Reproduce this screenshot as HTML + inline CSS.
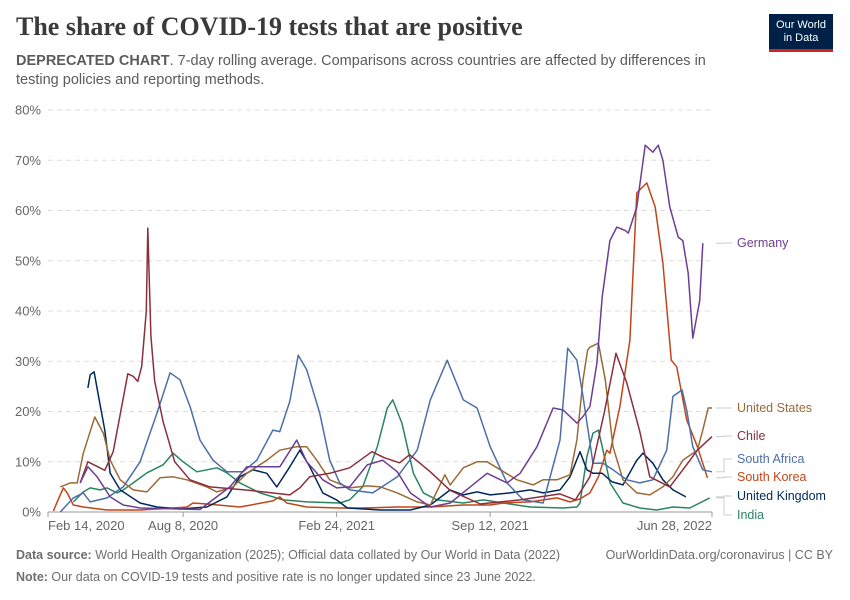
<!DOCTYPE html>
<html><head><meta charset="utf-8">
<style>
body{margin:0;background:#fff;font-family:"Liberation Sans",sans-serif;}
#wrap{position:relative;width:850px;height:600px;overflow:hidden;}
.title{position:absolute;left:16px;top:12px;font-family:"Liberation Serif",serif;font-size:26px;font-weight:bold;color:#3a3a3a;}
.sub{position:absolute;left:16px;top:52px;width:720px;font-size:14.5px;line-height:19px;color:#5b5b5b;}
.logo{position:absolute;left:769px;top:14px;width:64px;height:38px;background:#002147;border-bottom:3px solid #ce261e;color:#fff;font-size:11px;line-height:13px;text-align:center;padding-top:5px;box-sizing:border-box;}
.foot{position:absolute;left:16px;font-size:12.5px;color:#6e6e6e;}
</style></head><body>
<div id="wrap">
<div class="title">The share of COVID-19 tests that are positive</div>
<div class="sub"><b>DEPRECATED CHART</b>. 7-day rolling average. Comparisons across countries are affected by differences in testing policies and reporting methods.</div>
<div class="logo">Our World<br>in Data</div>
<svg id="chart" width="850" height="600" style="position:absolute;left:0;top:0"></svg>
<div class="foot" style="top:548px"><b>Data source:</b> World Health Organization (2025); Official data collated by Our World in Data (2022)</div>
<div class="foot" style="top:548px;left:auto;right:17px">OurWorldinData.org/coronavirus | CC BY</div>
<div class="foot" style="top:570px"><b>Note:</b> Our data on COVID-19 tests and positive rate is no longer updated since 23 June 2022.</div>
</div>
<script>
// days since Feb 14, 2020
const yTicks=[0,10,20,30,40,50,60,70,80];
const xTickDays=[0,176,376,576,865];
const xTickLabels=["Feb 14, 2020","Aug 8, 2020","Feb 24, 2021","Sep 12, 2021","Jun 28, 2022"];
const seriesNames=["Germany","United States","Chile","South Africa","South Korea","United Kingdom","India"];
const seriesColors=["#6d3e91","#9a6b36","#8c2f3c","#4d6fa8","#c0461a","#00295b","#2a8462"];
const labelY=[247,412,440,463,481,500,519];
const germanyDays=[42,52,64,81,98,120,198,237,259,302,324,337,358,376,393,416,436,455,472,498,524,550,572,598,615,637,658,671,689,697,706,715,722,732,741,752,756,767,778,788,795,801,810,821,827,834,840,849,853];
const germanyVals=[5.8,9,7,3,1.4,0.8,0.5,5,9,9,14.3,10,6.4,4.8,5,9.4,10.3,8,3.8,1,1.8,5,7.7,5.8,7.7,13,20.7,20.3,17.7,19,21,29.6,42.8,54,56.7,56,55.5,60.7,73,71.6,73,70,60.7,54.7,54,47.5,34.6,42,53.5];
const usDays=[16,29,38,46,61,72,81,94,111,129,146,163,181,207,220,241,259,285,302,324,337,350,367,393,416,433,455,481,498,517,524,541,559,572,585,611,632,645,663,680,689,697,703,706,717,726,736,749,767,784,801,814,827,846,853,860,865];
const usVals=[5,5.8,5.8,11.7,18.9,15.7,10.3,6.4,4.4,4,6.8,7,6.4,5,4,5,7.7,10.3,12.3,13,13,10.3,6.4,4.8,5.2,5,3.8,2,1.4,7.4,5.4,8.8,10,10,8.8,6.4,5.4,6.4,6.4,7.4,14.3,26.3,32.2,32.8,33.6,26.3,13,6.4,3.8,3.4,5,7,10.3,12.3,16.3,20.7,20.7];
const chileDays=[42,52,74,85,91,104,111,117,122,128,130,134,139,150,165,185,211,263,315,328,341,367,393,422,438,458,471,498,524,563,615,667,687,706,725,740,754,771,784,810,830,846,865];
const chileVals=[5.8,10,8.3,12,17,27.5,27,26,29,40,56.5,35,26,18,10,6.4,5,4.3,3.4,4.8,7,7.7,8.8,12,10.8,9.8,11.4,8,4.3,1.6,2.4,3.6,2.4,7,20,31.6,25.7,16,7,5,9,12.3,15];
const saDays=[16,33,46,55,77,98,120,142,159,172,185,198,215,233,254,272,293,302,315,326,337,354,367,380,393,423,455,481,498,520,541,559,576,598,619,645,667,677,689,697,710,723,736,754,771,788,806,814,826,832,840,853,865];
const saVals=[0,2.8,3.8,2,2.8,5,10,19.7,27.7,26.3,21,14.3,10.3,8,8,10.3,16.3,16,22,31.2,28.3,19.7,10.3,5.8,4.4,3.8,7,12.3,22.3,30.2,22.3,20.7,13,5.8,2.4,1.8,14.3,32.6,30.2,23,9.7,9.7,8.4,6.4,5.8,6.4,12.3,23,24.3,20.3,13,8.4,8];
const skDays=[7,13,20,25,33,46,77,120,163,181,189,207,250,293,302,311,337,380,410,455,498,541,576,593,628,663,680,693,706,717,728,732,745,758,767,780,791,801,812,819,832,846,859];
const skVals=[0.2,2.4,4.8,3.8,1.4,1,0.4,0.4,0.8,1,1.8,1.6,1,2.2,3,1.8,1,0.8,0.8,1,1,1.4,1.4,1.8,2,2.8,2,2.6,3.8,7,12.3,11.7,21,34.2,63.5,65.5,60.7,49.5,30.2,28.9,18.3,13,6.8];
const ukDays=[52,55,60,65,74,81,94,120,142,172,207,233,250,267,285,298,315,328,341,358,376,390,433,472,498,524,541,559,576,602,628,645,667,680,693,702,710,722,735,749,767,775,788,801,814,831];
const ukVals=[24.7,27.3,27.9,23.7,16.3,7.7,4.4,1.8,1,0.6,1,3,7,8.4,7.7,5,9,12.3,9,3.8,2.4,0.8,0.4,0.4,1.4,4.4,3.4,4,3.4,3.8,4.4,3.8,4.4,7,12,8.4,7.7,7.7,6,5.4,10.3,11.7,9.7,6.4,4.4,3];
const indiaDays=[33,46,55,68,77,90,98,111,129,150,163,176,194,220,233,250,276,306,337,380,393,410,429,442,449,461,476,489,507,541,567,593,628,671,689,693,702,710,717,723,732,749,771,793,814,836,849,862];
const indiaVals=[2,4,4.8,4.4,4.8,3.8,4.4,5.8,7.8,9.4,11.7,10,8,8.8,7.8,5.8,3.8,2.4,2,1.8,2.4,5,13,20.7,22.3,17.7,7.7,3.8,2.4,1.8,2.4,1.8,1,0.8,1,1.8,11,15.7,16.3,12.3,5.8,1.8,0.8,0.4,1,0.8,1.8,2.8];
const allDays=[germanyDays,usDays,chileDays,saDays,skDays,ukDays,indiaDays];
const allVals=[germanyVals,usVals,chileVals,saVals,skVals,ukVals,indiaVals];

const NS="http://www.w3.org/2000/svg";
const svg=document.getElementById('chart');
const X0=48,X1=712,Y0=512,Y1=110,DMAX=865,VMAX=80;
function xs(d){return X0+d*(X1-X0)/DMAX;}
function ys(v){return Y0-v*(Y0-Y1)/VMAX;}
function mk(tag,attrs){const e=document.createElementNS(NS,tag);for(const k in attrs)e.setAttribute(k,attrs[k]);svg.appendChild(e);return e;}
yTicks.forEach(v=>{
  if(v>0){const g=mk('line',{x1:X0,x2:X1,y1:ys(v),y2:ys(v),stroke:'#dddddd','stroke-dasharray':'5,4'});
  
  }
  const t=mk('text',{x:41,y:ys(v)+4.5,'text-anchor':'end','font-size':13,fill:'#666'});
  t.textContent=v+'%';
  
  
});
const ax=mk('line',{x1:X0,x2:X1,y1:Y0,y2:Y0,stroke:'#999'});


xTickDays.forEach((d,i)=>{
  const tk=mk('line',{x1:xs(d),x2:xs(d),y1:Y0,y2:Y0+5,stroke:'#999'});
  
  
  const anchor=i==0?'start':(i==xTickDays.length-1?'end':'middle');
  const t=mk('text',{x:xs(d),y:530,'text-anchor':anchor,'font-size':13,fill:'#666'});
  t.textContent=xTickLabels[i];
  
  
});
const order=[6,4,5,1,3,2,0];
order.forEach(i=>{
  const ds=allDays[i],vs=allVals[i];
  let p='';ds.forEach((d,j)=>{p+=(j?'L':'M')+xs(d).toFixed(1)+','+ys(vs[j]).toFixed(1);});
  const path=mk('path',{d:p,fill:'none',stroke:seriesColors[i],'stroke-width':1.5,'stroke-linejoin':'round'});
  
  
});
seriesNames.forEach((n,i)=>{
  const ds=allDays[i],vs=allVals[i];
  const ey=ys(vs[vs.length-1]);
  const c=mk('path',{d:'M716,'+ey.toFixed(1)+'H724V'+(labelY[i]-4)+'H732',fill:'none',stroke:'#ccc'});
  
  
  const t=mk('text',{x:737,y:labelY[i],'font-size':12.5,fill:seriesColors[i]});
  t.textContent=n;
  
  
});
</script>
</body></html>
